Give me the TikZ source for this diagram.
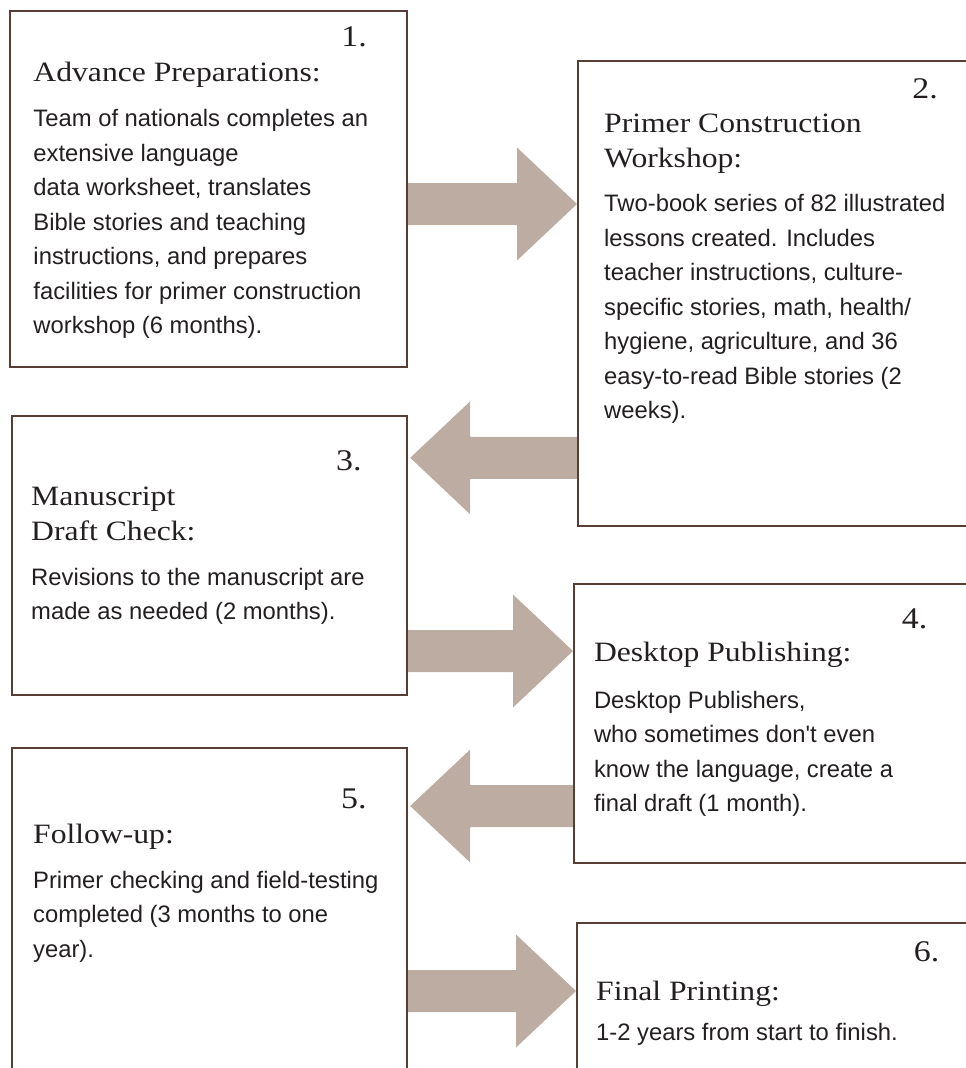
\documentclass[tikz,border=0pt]{standalone}
\usepackage{fontspec}
\setmainfont{Liberation Sans}[Ligatures=TeXOff]
\newfontfamily\titlefont{Liberation Serif}[FakeStretch=1.13]
\usetikzlibrary{calc}
\pgfdeclarelayer{bg}
\pgfsetlayers{bg,main}
\definecolor{boxline}{RGB}{86,62,52}
\definecolor{arrowfill}{RGB}{188,172,161}
\definecolor{ink}{RGB}{35,31,32}
\tikzset{
  stepbox/.style={draw=boxline, line width=2.2bp, rectangle, inner sep=0pt, anchor=north west},
  numtext/.style={anchor=base east, inner sep=0pt, text=ink, font=\titlefont\fontsize{30bp}{34bp}\selectfont},
  titletext/.style={anchor=base west, inner sep=0pt, text=ink, font=\titlefont\fontsize{28bp}{35bp}\selectfont},
  bodytext/.style={anchor=base west, inner sep=0pt, text=ink, font=\fontsize{23.8bp}{34.5bp}\selectfont},
  fatarrowfill/.style={fill=arrowfill},
}
\newcommand\ml[1]{\begin{tabular}[t]{@{}l@{}}#1\end{tabular}}
\newcommand\fatarrow[2]{%
  \path ($(#2)!60bp!(#1)$) coordinate (hb);
  \fill[fatarrowfill] ($(#1)!21bp!90:(#2)$) -- ($(hb)!21bp!90:(#2)$) -- ($(hb)!56.5bp!90:(#2)$) -- (#2)
    -- ($(hb)!56.5bp!-90:(#2)$) -- ($(hb)!21bp!-90:(#2)$) -- ($(#1)!21bp!-90:(#2)$) -- cycle;}
\begin{document}
\begin{tikzpicture}[x=1bp,y=-1bp]
\useasboundingbox (0,0) rectangle (966,1068);
\clip (0,0) rectangle (966,1068);

% boxes
\node[stepbox, minimum width=397.5bp, minimum height=356bp] (b1) at (8.5,10) {};
\node[stepbox, minimum width=500bp, minimum height=465bp] (b2) at (577,60) {};
\node[stepbox, minimum width=394.5bp, minimum height=279bp] (b3) at (11,415) {};
\node[stepbox, minimum width=500bp, minimum height=279bp] (b4) at (573,582.7) {};
\node[stepbox, minimum width=395bp, minimum height=400bp] (b5) at (11,746.7) {};
\node[stepbox, minimum width=500bp, minimum height=300bp] (b6) at (576,921.7) {};

% arrow end points
\coordinate (a1s) at (b1.east |- 0,204);
\coordinate (a1e) at (b2.west |- 0,204);
\coordinate (a2s) at (b2.west |- 0,457.8);
\coordinate (a2e) at ($(b3.east |- 0,457.8)+(2.5,0)$);
\coordinate (a3s) at (b3.east |- 0,651);
\coordinate (a3e) at (b4.west |- 0,651);
\coordinate (a4s) at (b4.west |- 0,806);
\coordinate (a4e) at ($(b5.east |- 0,806)+(2,0)$);
\coordinate (a5s) at (b5.east |- 0,991);
\coordinate (a5e) at (b6.west |- 0,991);

\begin{pgfonlayer}{bg}
\fatarrow{a1s}{a1e}
\fatarrow{a2s}{a2e}
\fatarrow{a3s}{a3e}
\fatarrow{a4s}{a4e}
\fatarrow{a5s}{a5e}
\end{pgfonlayer}

% box 1
\node[numtext] (n1) at (367,46.7) {1.};
\node[titletext] (t1) at (33.3,81) {Advance Preparations:};
\node[bodytext] (d1) at (33.3,126.7) {\ml{Team of nationals completes an\\extensive language\\data worksheet, translates\\Bible stories and teaching\\instructions, and prepares\\facilities for primer construction\\workshop (6 months).}};

% box 2
\node[numtext] (n2) at (938,98) {2.};
\node[titletext] (t2) at (604,132.7) {\ml{Primer Construction\\Workshop:}};
\node[bodytext] (d2) at (604,211.7) {\ml{Two-book series of 82 illustrated\\lessons created. Includes\\teacher instructions, culture-\\specific stories, math, health/\\hygiene, agriculture, and 36\\easy-to-read Bible stories (2\\weeks).}};

% box 3
\node[numtext] (n3) at (361.7,470) {3.};
\node[titletext] (t3) at (31,505) {\ml{Manuscript\\Draft Check:}};
\node[bodytext] (d3) at (31,585) {\ml{Revisions to the manuscript are\\made as needed (2 months).}};

% box 4
\node[numtext] (n4) at (927.5,628.3) {4.};
\node[titletext] (t4) at (593.8,661.7) {Desktop Publishing:};
\node[bodytext] (d4) at (593.8,708.3) {\ml{Desktop Publishers,\\who sometimes don't even\\know the language, create a\\final draft (1 month).}};

% box 5
\node[numtext] (n5) at (366.7,808) {5.};
\node[titletext] (t5) at (33,843) {Follow-up:};
\node[bodytext] (d5) at (33,888) {\ml{Primer checking and field-testing\\completed (3 months to one\\year).}};

% box 6
\node[numtext] (n6) at (939.6,961.7) {6.};
\node[titletext] (t6) at (596,1000) {Final Printing:};
\node[bodytext] (d6) at (596,1040) {1-2 years from start to finish.};
\end{tikzpicture}
\end{document}
